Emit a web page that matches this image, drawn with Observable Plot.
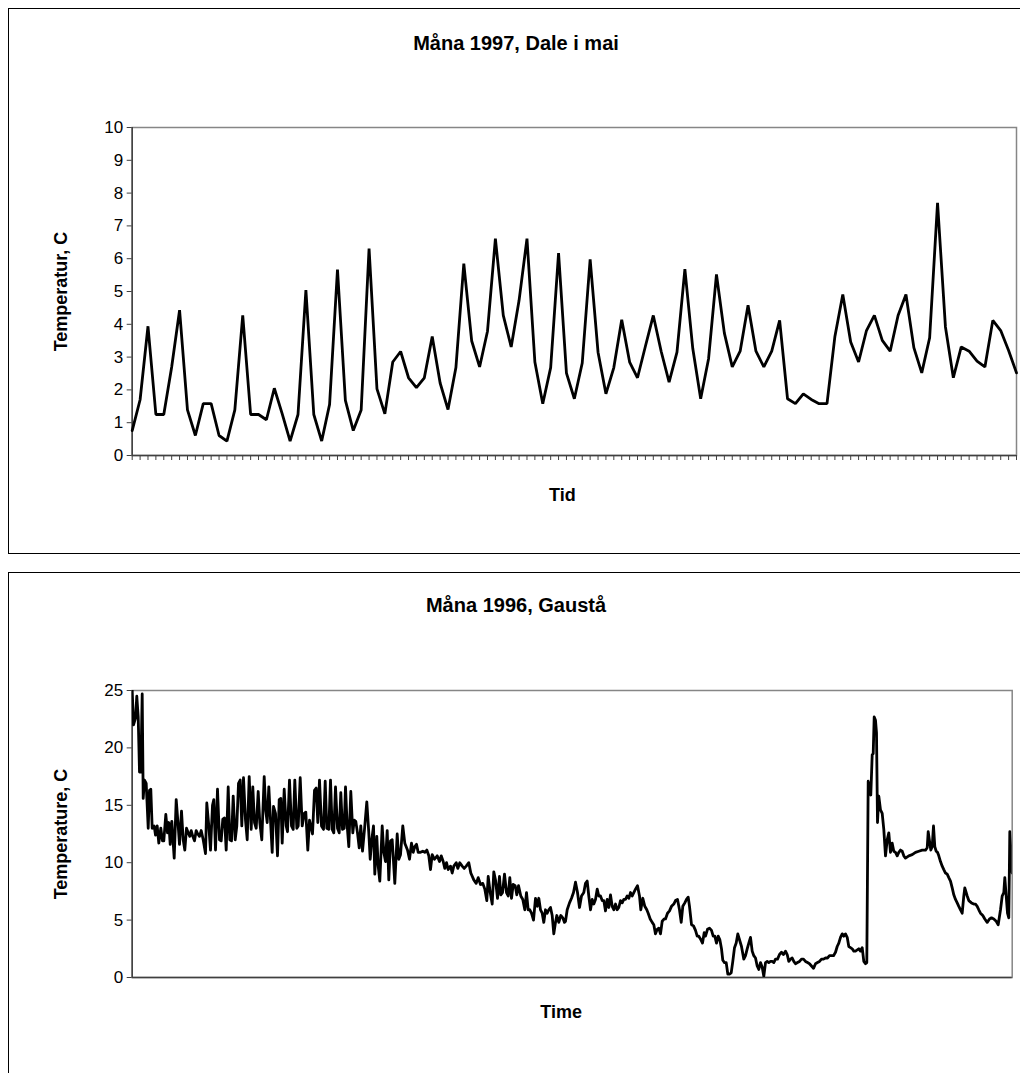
<!DOCTYPE html>
<html><head><meta charset="utf-8">
<script src="https://cdn.jsdelivr.net/npm/d3@7"></script>
<script src="https://cdn.jsdelivr.net/npm/@observablehq/plot@0.6"></script>
<style>
body{margin:0;background:#fff;font-family:"Liberation Sans",Arial,sans-serif}
#root{position:relative;width:1020px;height:1073px;overflow:hidden;background:#fff}
.panel{position:absolute;border:1px solid #000;box-sizing:border-box}
.title{position:absolute;font-weight:bold;font-size:20px;transform:translate(-50%,-50%);white-space:nowrap;color:#000}
.chart{position:absolute;left:0}
</style></head><body>
<div id="root">
 <div class="panel" style="left:8px;top:8px;width:1030px;height:546px"></div>
 <div class="panel" style="left:8px;top:572px;width:1030px;height:520px"></div>
 <div class="title" id="t1" style="left:516px;top:43px"></div>
 <div class="title" id="t2" style="left:516px;top:605px"></div>
 <div class="chart" id="c1" style="top:0"></div>
 <div class="chart" id="c2" style="top:572px"></div>
</div>
<script>
// ---------- Panel 1: Måna 1997, Dale i mai ----------
const title1 = "Måna 1997, Dale i mai";
const yLabel1 = "Temperatur, C";
const xLabel1 = "Tid";
const yTicks1 = [0,1,2,3,4,5,6,7,8,9,10];
const daleTemp = [
 0.76,1.70,3.94,1.25,1.25,2.70,4.43,1.39,0.61,1.58,
 1.58,0.61,0.44,1.39,4.27,1.25,1.25,1.09,2.05,1.27,
 0.44,1.25,5.04,1.25,0.44,1.56,5.67,1.68,0.76,1.39,
 6.31,2.03,1.27,2.85,3.17,2.37,2.07,2.37,3.63,2.21,
 1.40,2.68,5.85,3.49,2.70,3.79,6.61,4.27,3.31,4.73,
 6.61,2.85,1.58,2.68,6.17,2.51,1.73,2.82,5.98,3.15,
 1.88,2.68,4.14,2.85,2.37,3.33,4.27,3.17,2.24,3.15,
 5.68,3.26,1.73,2.95,5.52,3.73,2.70,3.18,4.58,3.18,
 2.70,3.18,4.12,1.73,1.58,1.88,1.71,1.58,1.58,3.63,
 4.91,3.46,2.85,3.81,4.27,3.51,3.18,4.27,4.91,3.29,
 2.52,3.59,7.70,3.92,2.37,3.31,3.18,2.88,2.70,4.12,
 3.81,3.20,2.52
];

// ---------- Panel 2: Måna 1996, Gaustå ----------
const title2 = "Måna 1996, Gaustå";
const yLabel2 = "Temperature, C";
const xLabel2 = "Time";
const yTicks2 = [0,5,10,15,20,25];
const gaustaTime = [
 0,1.3,3.3,4.6,6,7.3,8.6,10,11,12.3,
 14,16,17.3,18.6,20,22,23.3,25,26.6,28.6,
 30.3,31.6,33.6,35.3,36.6,38,39.6,42,44,46,
 47.3,49.3,51,52.6,54.3,56,57.6,59,60.6,62.3,
 64,65.6,67.3,69,71,73.3,74.6,76.6,78.3,80.3,
 81.6,83.3,85.3,87.3,89,90.6,92.3,94,96,97.6,
 99.3,101,103,104.6,106.3,108,109.6,111.3,113.3,115,
 117,119,120.6,122.3,124,126,127.6,129.6,132,133.6,
 135,136.6,138.6,140,141.3,143.3,145.3,147,148.6,150,
 152,154,155.3,157.3,159.3,161,162.6,164.6,166,168,
 170,172,173.6,175.6,177.3,178.6,180.3,182.3,184,185.6,
 187.3,189.3,191.3,193,194.6,196.6,198.3,200,201.6,203.3,
 205.3,207,208.6,210.3,212,
 213.3,215,216.6,218.6,220.6,222,223.6,225.3,227,228.6,
 230.3,232.3,234.6,236.6,238,239.6,241.3,242.6,244.6,246,
 247.6,250,251.6,253.3,255,256.6,258.3,260,262.6,265,
 266.6,268.3,270.6,272.6,275.3,277.3,279.3,281,282.6,284.3,
 286,288.3,290.6,292.6,294.6,296.6,298.3,300,302.3,305,
 307.3,309,311,312.6,314.3,316,318.3,320,321.6,324,
 325.6,327.6,330,332,334,336.6,338.6,341.6,344,346,
 348.3,350.6,352.6,354.6,356,358,360,361.6,363.3,365.3,
 367.3,368.6,370.3,372.3,374.3,376,377.6,379.3,381,383,
 384.6,386.3,388.6,390.6,392.6,394.3,396,397.6,399.3,401.3,
 403.3,405,406.6,408.3,410,411.6,413.3,415,416.6,418.3,
 420,421.6,423.3,424.6,426.6,428.6,430.6,432.3,
 433.3,435,437.3,439.3,441.3,443.3,445.3,447.3,449.3,451.6,
 453.3,455,456.6,458.3,460,461.6,463.3,465,466.6,468.3,
 470,471.6,473.3,475,476.6,478.3,480,481.6,483.3,485,
 486.6,488.3,490,491.6,493.3,495,496.6,498.3,500,501.6,
 503.3,505.3,507.3,508.6,510.6,512.6,514.6,516,518,520,
 521.6,523.3,525,526.6,528.3,530,532,533.3,535.3,537.3,
 539.3,541.6,543.3,545.3,547.3,549,550.6,552.6,554.3,556,
 557.3,559.3,561.3,563.3,565,566.6,568.6,570.3,572,573.3,
 575.3,577.3,579.3,581,582.6,584.3,586,587.6,589.3,590.6,
 592.3,594,595.6,597.3,599,600.6,602.3,604,605.6,607.6,
 609.3,611.6,613.3,615,616.6,618.3,620,621.6,623.3,625,
 626.6,628.3,630,631.6,633.3,635,636.6,638.3,640,641.6,
 643.3,645.3,647.3,649.3,651.3,
 653.3,655,656.6,658.3,660,661.6,663.3,665.3,667.3,669.3,
 671.3,673.3,675.3,677.3,679.3,681.3,683.3,685.3,687.3,689.3,
 691.3,693.3,695.3,697.3,699.3,701.3,703.3,705,706.6,708.3,
 710,711.6,713.3,715,716.6,718.3,720,721.6,723.3,725,
 726.6,728.3,730,731.6,733.3,734.6,736,737.3,738.6,740,
 741,742,743.3,744.3,745.3,746.6,748.3,750,751.6,753.3,
 755,756.6,758.3,760,761.6,763.3,765,766.6,768.3,770,
 771.6,773.3,776.6,780,783.3,786.6,790,793.3,795,796,
 797.3,798.6,800,801.3,802.6,804,805.3,806.6,808.3,810,
 811.6,813.3,815,816.6,818.3,820,821.6,823.3,825,826.6,
 828.3,830,831.6,832.6,835,836.6,839.3,841.6,843.3,845,
 846.6,848.3,850.6,852.6,855,857.3,859.3,861.6,864,866,
 868.3,870,871.6,872.6,874,875.3,876.6,877.6,879,880
];
const gaustaTemp = [
 25,22,22.6,24.5,22.7,17.9,17.9,24.7,15.6,17.2,
 16.9,13,16.3,16.4,13,13.2,12.4,13.2,11.7,13,
 11.9,11.9,14.2,12.6,13.5,11.6,13.6,10.4,15.5,13.2,
 11.6,14.5,12,11.1,13,12.6,12.3,12.8,12.3,11.9,
 12.8,12.5,12.3,12.8,12,10.8,15.2,13.2,11.1,15,
 15.5,11.1,16.4,12,11.9,13.8,13.9,11.1,16.6,12,
 11.9,15.8,12,13.2,16.9,17.2,13.2,17.4,13.7,12,
 17.5,12.9,16.6,13.5,13,16.2,13.5,12,17.5,14.5,
 13.5,16.6,13.2,10.9,14.9,14.3,10.6,15.5,15.6,11.7,
 16.4,13.2,12.7,17.2,13.2,12.9,17.2,13,13.2,17.4,
 13.2,14.3,14.4,11.1,13.7,13.2,12.5,16.3,16.5,13.5,
 17.2,13.2,12.9,17.1,13,12.9,17.2,12.9,12.6,16.6,
 13,12.6,16.1,12.9,13,
 16.6,13.2,11.4,16.2,12.6,13.7,13.6,12.6,11.3,13.2,
 11,12.9,15.3,12.6,10.3,12,13.2,9,12.3,9.7,
 8.4,13.2,10.9,10.1,12.8,8.5,11.9,12,8.2,12.5,
 10.3,10.7,13.2,11.7,11.1,10.3,11.7,10.9,11.4,11.6,
 10.9,10.9,11,10.9,11.1,10.6,9.4,10.7,10.3,10.6,
 10.1,10.6,10.1,9.5,10,9.4,9.7,9.1,9.7,10,
 9.5,10,9.7,9.5,9.7,10,9.1,8.5,8.2,8.7,
 8.1,8.2,7.7,6.7,8.8,7.4,6.4,9.2,8.5,6.9,
 8.8,7.2,7.4,9,7.4,7.1,8.7,6.9,8.1,8,
 7.2,8,7.1,6.8,5.9,7.4,5.9,5.9,5.6,5,
 6.9,6.2,6.9,5.9,5.6,4.8,5.9,5.6,5.9,6.1,
 5.4,3.8,4.8,5.4,4.8,5.4,5.2,4.8,
 4.9,5.9,6.5,6.9,7.4,8.3,7.4,6.1,7.1,7.4,
 8.2,8.4,7.1,5.9,6.8,6.4,6.8,7.7,7.1,7.1,
 6.7,6.7,5.8,6.8,6.1,7.2,6.2,5.9,6.4,5.9,
 6.1,6.7,6.5,6.8,6.8,7.1,6.9,7.4,7.1,7.4,
 7.7,8,7.1,5.9,6.9,6.2,5.9,5.6,5.1,4.8,
 4.6,3.8,4.2,4.3,3.8,4.9,5.1,5.1,5.6,5.8,
 6.2,6.4,6.7,6.8,5.9,4.8,6.2,6.5,6.8,7,
 6.2,4.6,4.5,4.1,3.6,3.6,3.3,3,3.9,3.6,
 4.2,4.3,4.1,3.6,3.6,3,3.6,3.3,2.5,1.5,
 1.3,1.3,0.3,0.3,0.4,1.4,2.6,3,3.8,3.2,
 2.7,1.6,1.9,2.5,3,3.5,2.3,1.9,1.7,1,
 0.7,1.3,0.9,0.1,1.3,1.4,1.3,1.4,1.4,1.3,
 1.6,1.6,2,2.2,2,
 2.3,2,1.4,1.6,1.7,1.4,1.2,1.3,1.4,1.6,
 1.6,1.4,1.3,1.2,1,0.8,1.2,1.3,1.4,1.6,
 1.6,1.7,1.7,1.9,1.9,1.9,2.2,2.7,3,3.5,
 3.8,3.6,3.8,3.5,2.7,2.6,2.5,2.3,2.3,2.4,
 2.5,2.3,2.6,1.4,1.2,1.3,17.1,16.6,15.9,19.4,
 19.5,22.7,22.4,21.3,13.5,15.8,14.6,14.3,12.9,10.6,
 12,12.6,10.9,11.7,11,10.9,10.6,10.9,11.1,11,
 10.6,10.4,10.6,10.7,10.9,11,11.1,11.1,11.3,12.7,
 11.9,11.1,11.4,13.2,11.4,11,10.9,10.6,10.1,9.7,
 9.4,9.1,9,8.7,8.4,7.8,7.2,6.8,6.5,6.2,
 5.9,5.6,7.1,7.8,7.1,6.7,6.5,6.4,6.4,6.2,
 5.9,5.6,5.4,5.1,4.8,5.1,5.2,5.1,4.9,4.6,
 5.9,7.1,7.4,8.7,7.1,5.6,5.2,12.7,10.6,9.1
];

document.getElementById("t1").textContent = title1;
document.getElementById("t2").textContent = title2;

const FONT = "'Liberation Sans', Arial, sans-serif";
const AXIS = "#404040";
const FRAME = "#868686";

const dale = daleTemp.map((v, i) => ({i, v}));
const gausta = gaustaTime.map((t, k) => ({t, v: gaustaTemp[k]}));

const chart1 = Plot.plot({
  width: 1020, height: 553,
  marginLeft: 131.7, marginRight: 4, marginTop: 127, marginBottom: 98,
  style: {fontFamily: FONT, fontSize: "17px", color: "#000", background: "transparent", overflow: "visible"},
  x: {domain: [0, daleTemp.length - 1]},
  y: {domain: [0, 10]},
  marks: [
    Plot.frame({stroke: FRAME, strokeWidth: 1.5}),
    Plot.axisY({ticks: yTicks1, tickSize: 5, tickPadding: 4, label: null, stroke: AXIS, fontSize: 17}),
    Plot.axisX({ticks: d3.range(daleTemp.length), tickSize: 5, tickFormat: () => "", label: null, stroke: AXIS}),
    Plot.ruleX([0], {stroke: AXIS, strokeWidth: 1.5}),
    Plot.ruleY([0], {stroke: AXIS, strokeWidth: 1.5}),
    Plot.line(dale, {x: "i", y: "v", stroke: "#000", strokeWidth: 2.8, strokeLinejoin: "miter"}),
    Plot.text([yLabel1], {text: d => d, frameAnchor: "left", textAnchor: "middle", rotate: -90, dx: -71, fontWeight: "bold", fontSize: 18, fill: "#000"}),
    Plot.text([xLabel1], {text: d => d, frameAnchor: "bottom", dy: 45, dx: -12, fontWeight: "bold", fontSize: 18, fill: "#000"})
  ]
});
document.getElementById("c1").appendChild(chart1);

const chart2 = Plot.plot({
  width: 1020, height: 501,
  marginLeft: 131.7, marginRight: 8.3, marginTop: 118, marginBottom: 96,
  style: {fontFamily: FONT, fontSize: "17px", color: "#000", background: "transparent", overflow: "visible"},
  x: {domain: [0, 880], axis: null},
  y: {domain: [0, 25]},
  marks: [
    Plot.frame({stroke: FRAME, strokeWidth: 1.5}),
    Plot.axisY({ticks: yTicks2, tickSize: 5, tickPadding: 4, label: null, stroke: AXIS, fontSize: 17}),
    Plot.ruleX([0], {stroke: AXIS, strokeWidth: 1.5}),
    Plot.ruleY([0], {stroke: AXIS, strokeWidth: 1.5}),
    Plot.line(gausta, {x: "t", y: "v", stroke: "#000", strokeWidth: 2.8, clip: true}),
    Plot.text([yLabel2], {text: d => d, frameAnchor: "left", textAnchor: "middle", rotate: -90, dx: -71, fontWeight: "bold", fontSize: 18, fill: "#000"}),
    Plot.text([xLabel2], {text: d => d, frameAnchor: "bottom", dy: 40, dx: -11, fontWeight: "bold", fontSize: 18, fill: "#000"})
  ]
});
document.getElementById("c2").appendChild(chart2);
</script>
</body></html>
